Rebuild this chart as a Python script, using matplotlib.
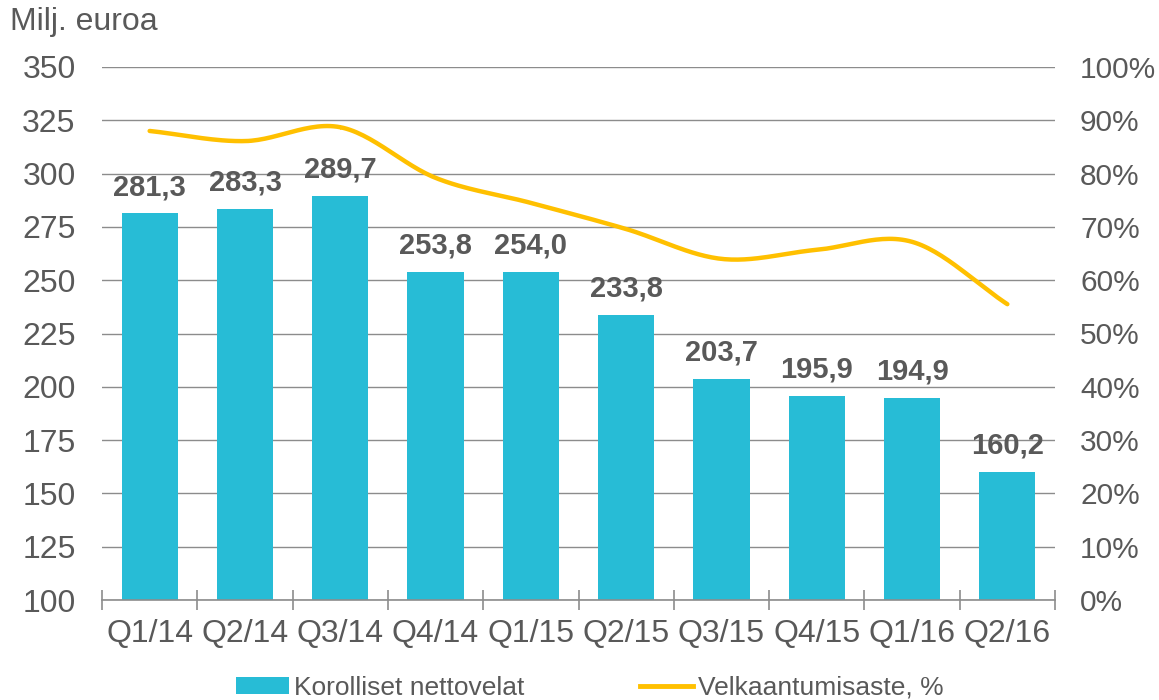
import matplotlib
matplotlib.use('Agg')
import matplotlib.pyplot as plt
import numpy as np
from matplotlib.patches import Patch
from matplotlib.lines import Line2D

plt.rcParams['font.family'] = ['Liberation Sans', 'DejaVu Sans']

quarters = ['Q1/14', 'Q2/14', 'Q3/14', 'Q4/14', 'Q1/15', 'Q2/15', 'Q3/15', 'Q4/15', 'Q1/16', 'Q2/16']
net_debt = [281.3, 283.3, 289.7, 253.8, 254.0, 233.8, 203.7, 195.9, 194.9, 160.2]
gearing = [88.0, 86.1, 88.7, 79.2, 74.5, 69.6, 64.0, 65.7, 67.2, 55.5]

bar_color = '#27BCD6'
line_color = '#FFC000'
text_color = '#595959'
grid_color = '#8C8C8C'


def smooth(xs, ys, n=30):
    # catmull-rom style smoothing like Excel's smoothed line
    xs = np.asarray(xs, float)
    ys = np.asarray(ys, float)
    px = np.concatenate([[2 * xs[0] - xs[1]], xs, [2 * xs[-1] - xs[-2]]])
    py = np.concatenate([[2 * ys[0] - ys[1]], ys, [2 * ys[-1] - ys[-2]]])
    outx, outy = [], []
    for i in range(1, len(px) - 2):
        t = np.linspace(0, 1, n)
        for arr, out in ((px, outx), (py, outy)):
            p0, p1, p2, p3 = arr[i - 1], arr[i], arr[i + 1], arr[i + 2]
            out.extend(0.5 * ((2 * p1) + (-p0 + p2) * t +
                              (2 * p0 - 5 * p1 + 4 * p2 - p3) * t ** 2 +
                              (-p0 + 3 * p1 - 3 * p2 + p3) * t ** 3))
    return outx, outy


fig = plt.figure(figsize=(11.59, 7.0), dpi=100)
ax = fig.add_axes([102 / 1159, 100 / 700, 953 / 1159, 533 / 700])
x = np.arange(len(quarters))

ax.set_ylim(100, 350)
ax.set_xlim(-0.5, len(quarters) - 0.5)
ax.set_yticks(np.arange(100, 351, 25))
ax.yaxis.grid(True, color=grid_color, linewidth=1)
ax.set_axisbelow(True)
bars = ax.bar(x, net_debt, width=0.59, color=bar_color, zorder=2)

for xi, v in zip(x, net_debt):
    ax.annotate(f'{v:.1f}'.replace('.', ','), (xi, v), xytext=(0, 19),
                textcoords='offset points', ha='center', va='center',
                fontsize=21, fontweight='bold', color=text_color, zorder=5)

for s in ['left', 'right', 'top']:
    ax.spines[s].set_visible(False)
ax.spines['bottom'].set_color(grid_color)
ax.spines['bottom'].set_linewidth(1.2)

ax.set_xticks(x)
ax.set_xticklabels(quarters)
ax.set_xticks(np.arange(-0.5, len(quarters), 1), minor=True)
ax.tick_params(axis='x', which='major', length=0, labelsize=23, labelcolor=text_color, pad=14)
ax.tick_params(axis='x', which='minor', length=14, color=grid_color, width=1.2, direction='inout')
ax.tick_params(axis='y', length=0, labelsize=23, labelcolor=text_color, pad=19)

ax2 = ax.twinx()
ax2.set_ylim(0, 100)
ax2.set_yticks(np.arange(0, 101, 10))
ax2.set_yticklabels([f'{v}%' for v in range(0, 101, 10)])
ax2.tick_params(axis='y', length=0, labelsize=21.5, labelcolor=text_color, pad=18)
for s in ax2.spines.values():
    s.set_visible(False)
sx, sy = smooth(x, gearing)
ax2.plot(sx, sy, color=line_color, linewidth=3.2, solid_capstyle='round')

fig.text(10 / 1159, 1 - 22 / 700, 'Milj. euroa', fontsize=23, color=text_color, va='center', ha='left')

handles = [Patch(facecolor=bar_color, edgecolor='none'),
           Line2D([0], [0], color=line_color, linewidth=3.5)]
fig.legend(handles, ['Korolliset nettovelat', 'Velkaantumisaste, %'],
           loc='center', bbox_to_anchor=(590 / 1159, 1 - 688 / 700), ncol=2,
           frameon=False, fontsize=19, labelcolor=text_color,
           handlelength=2.0, handleheight=0.6, handletextpad=0.2, columnspacing=4.4,
           borderpad=0, borderaxespad=0)

fig.savefig('out.png', dpi=100)
